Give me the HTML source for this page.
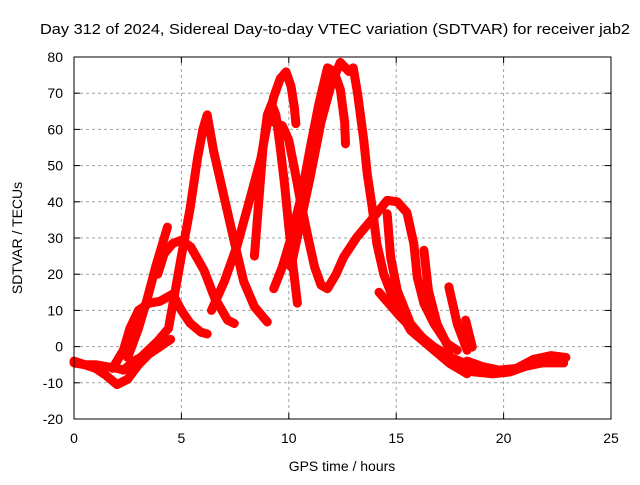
<!DOCTYPE html>
<html><head><meta charset="utf-8"><style>
body{margin:0;background:#fff}
svg text{font-family:"Liberation Sans",sans-serif;fill:#000}
</style></head><body>
<svg id="chart" width="640" height="480" xmlns="http://www.w3.org/2000/svg">
<rect width="640" height="480" fill="#fff"/>
<text x="40" y="34" font-size="15" textLength="590" lengthAdjust="spacingAndGlyphs">Day 312 of 2024, Sidereal Day-to-day VTEC variation (SDTVAR) for receiver jab2</text>
<g id="grid"></g>
<g id="series"></g>
<rect x="74" y="57" width="537" height="362" fill="none" stroke="#000" stroke-width="1"/>
<g id="ticks"></g>
<text x="342" y="471" font-size="14" text-anchor="middle">GPS time / hours</text>
<text transform="translate(22,238) rotate(-90)" font-size="14" text-anchor="middle">SDTVAR / TECUs</text>
</svg>
<script>
const xTicks=[0,5,10,15,20,25];
const yTicks=[-20,-10,0,10,20,30,40,50,60,70,80];
const trackA=[[0,-4],[0.5,-5],[1,-6],[1.5,-8],[2,-10.5],[2.5,-9],[3,-5],[3.5,-2],[4,0],[4.5,2]];
const trackB=[[0,-4.5],[0.5,-5],[1,-5],[1.5,-5.5],[2,-6],[2.3,-6.5],[2.8,-4],[3.1,-3],[3.9,1.5],[4.4,5],[4.7,15],[5,25],[5.4,38],[5.75,52],[6.0,60],[6.2,64],[6.5,54],[7,41],[7.5,28],[7.9,18],[8.4,11],[9,6.8]];
const trackC=[[1.8,-6],[2.3,-1],[2.6,5],[3.0,10],[3.5,12],[4.0,12.5],[4.6,14.5],[5.0,10],[5.4,6.5],[5.9,4],[6.2,3.5]];
const trackD=[[2.5,-3],[3.0,5],[3.4,13],[3.8,22],[4.1,28],[4.35,33]];
const trackE=[[3.9,20],[4.2,25.7],[4.6,28.5],[5,29.4],[5.44,27.5],[6.06,21],[6.53,13.7],[7.15,7.3],[7.46,6.4]];
const trackF=[[6.4,10],[7.0,18],[7.6,28],[8.2,41],[8.7,52],[9.0,61.6],[9.3,69],[9.6,74],[9.87,75.9],[10.1,72],[10.26,66],[10.33,61.6]];
const trackG=[[8.4,25],[8.6,40],[8.8,55],[9.0,64],[9.2,67],[9.4,64],[9.6,55],[9.8,45],[10.0,33],[10.2,22],[10.4,12]];
const trackH=[[9.3,62],[9.7,61],[10.0,57],[10.3,48],[10.55,40],[10.9,30],[11.2,22],[11.5,17],[11.8,16],[12.2,20],[12.56,24.8],[13.18,30.3],[13.96,35.8],[14.58,40.4],[15.05,40],[15.5,37],[15.82,28.4],[15.98,19.2],[16.29,11.9],[16.76,6.3],[17.38,0.8],[17.84,-1]];
const trackI=[[9.3,16],[9.7,22],[10.1,30],[10.6,42],[11.0,55],[11.4,67],[11.8,77],[12.1,76],[12.4,71],[12.6,62],[12.64,56]];
const trackJ=[[10.1,22],[10.5,33],[11,47],[11.5,62],[12,73],[12.4,78.5],[12.8,76],[13.0,77],[13.2,70],[13.49,57],[13.65,47.8],[13.88,38.6],[14.1,28.4],[14.42,20],[14.89,12.8],[15.67,4.5],[16.76,-1],[17.5,-4.7],[18.3,-7.5]];
const trackK=[[14.2,15],[15.2,8.2],[15.98,3.6],[16.76,-0.1],[17.5,-2.9],[18.6,-5.6]];
const trackL=[[14.58,36.7],[14.74,24.7],[15.05,15.5],[15.67,6.3],[16.45,0.8]];
const trackM=[[16.29,26.6],[16.5,15.5],[16.9,6.3],[17.5,-1]];
const trackN=[[17.45,16.5],[17.84,6.3],[18.3,-1]];
const trackO=[[18.23,7.3],[18.54,-0.1]];
const trackP=[[18.3,-4],[19,-5.5],[19.8,-6.5],[20.6,-6],[21.4,-3.5],[22.2,-2.5],[22.9,-3]];
const trackQ=[[18.6,-7],[19.5,-7.5],[20.3,-7],[21,-5.5],[21.8,-4.5],[22.8,-4.5]];
const tracks=[trackA,trackB,trackC,trackD,trackE,trackF,trackG,trackH,trackI,trackJ,trackK,trackL,trackM,trackN,trackO,trackP,trackQ];

const X0=74,X1=611,Y0=419,Y1=57,xMin=0,xMax=25,yMin=-20,yMax=80;
const sx=v=>X0+(v-xMin)/(xMax-xMin)*(X1-X0);
const sy=v=>Y0-(v-yMin)/(yMax-yMin)*(Y0-Y1);
const NS='http://www.w3.org/2000/svg';
function mk(tag,attrs,parent){const e=document.createElementNS(NS,tag);for(const k in attrs)e.setAttribute(k,attrs[k]);parent.appendChild(e);return e;}
const grid=document.getElementById('grid'),ticks=document.getElementById('ticks'),series=document.getElementById('series');
xTicks.forEach(t=>{
  const x=sx(t);
  if(t>xMin&&t<xMax){const g=mk('line',{x1:x,x2:x,y1:Y1,y2:Y0,stroke:'#a0a0a0','stroke-dasharray':'3,3'},grid);
  
  }
  const a=mk('line',{x1:x,x2:x,y1:Y0,y2:Y0-6,stroke:'#000'},ticks);
  
  
  const b=mk('line',{x1:x,x2:x,y1:Y1,y2:Y1+6,stroke:'#000'},ticks);
  
  
  const l=mk('text',{x:x,y:443,'font-size':14,'text-anchor':'middle'},ticks);l.textContent=t;
  
  
});
yTicks.forEach(t=>{
  const y=sy(t);
  if(t>yMin&&t<yMax){const g=mk('line',{x1:X0,x2:X1,y1:y,y2:y,stroke:'#a0a0a0','stroke-dasharray':'3,3'},grid);
  
  }
  const a=mk('line',{x1:X0,x2:X0+6,y1:y,y2:y,stroke:'#000'},ticks);
  
  
  const b=mk('line',{x1:X1,x2:X1-6,y1:y,y2:y,stroke:'#000'},ticks);
  
  
  const l=mk('text',{x:63,y:y+5,'font-size':14,'text-anchor':'end'},ticks);l.textContent=t;
  
  
});
tracks.forEach(tr=>{
  const p=mk('polyline',{points:tr.map(d=>sx(d[0])+','+sy(d[1])).join(' '),fill:'none',stroke:'#ff0000','stroke-width':9,'stroke-linejoin':'round','stroke-linecap':'round'},series);
  
  
});
</script>
</body></html>
